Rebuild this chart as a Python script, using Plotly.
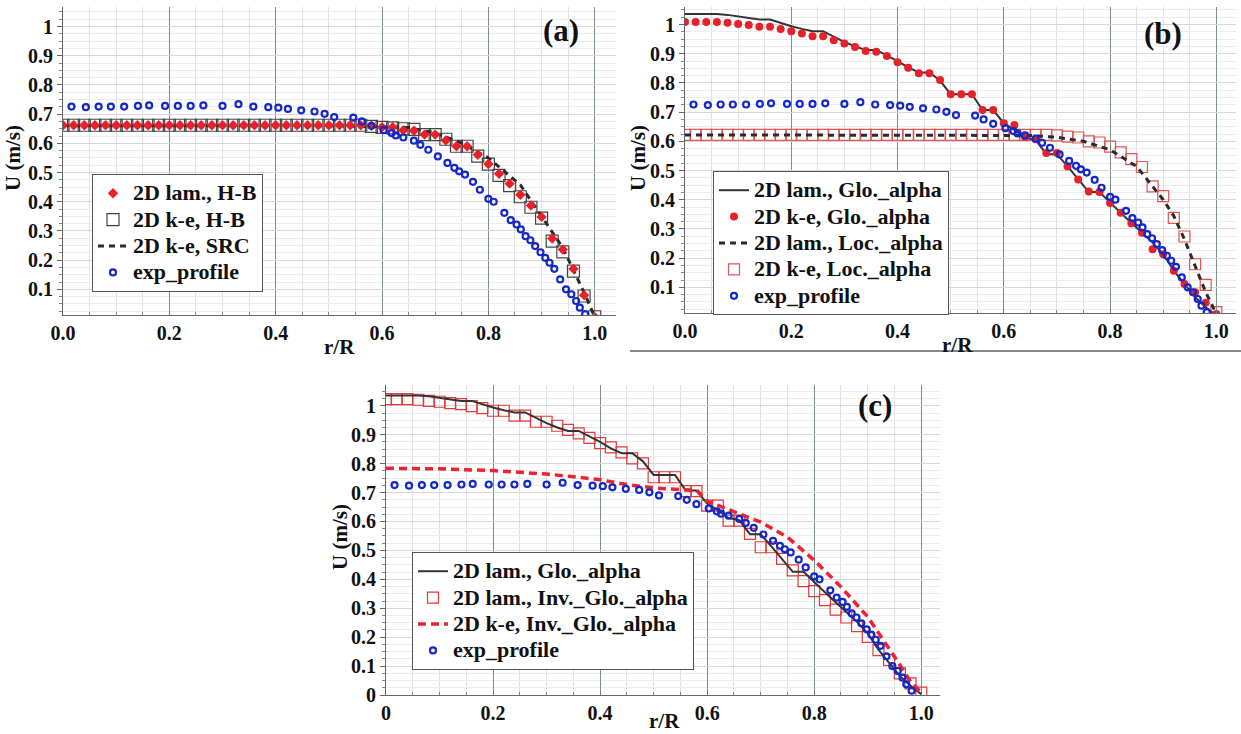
import plotly.graph_objects as go

# ---------------- data ----------------
r_sim = [0.00, 0.02, 0.04, 0.06, 0.08, 0.10, 0.12, 0.14, 0.16, 0.18,
         0.20, 0.22, 0.24, 0.26, 0.28, 0.30, 0.32, 0.34, 0.36, 0.38,
         0.40, 0.42, 0.44, 0.46, 0.48, 0.50, 0.52, 0.54, 0.56, 0.58,
         0.60, 0.62, 0.64, 0.66, 0.68, 0.70, 0.72, 0.74, 0.76, 0.78,
         0.80, 0.82, 0.84, 0.86, 0.88, 0.90, 0.92, 0.94, 0.96, 0.98, 1.00]

# panel (a)
u_lam_hb = [0.662, 0.662, 0.662, 0.662, 0.662, 0.662, 0.662, 0.662, 0.662, 0.662,
            0.662, 0.662, 0.662, 0.662, 0.662, 0.662, 0.662, 0.662, 0.662, 0.662,
            0.662, 0.662, 0.662, 0.662, 0.662, 0.662, 0.662, 0.662, 0.662, 0.660,
            0.655, 0.655, 0.645, 0.643, 0.630, 0.630, 0.610, 0.590, 0.590, 0.561,
            0.529, 0.496, 0.462, 0.424, 0.387, 0.348, 0.274, 0.236, 0.170, 0.080, 0.005]
u_ke_hb = [0.662, 0.662, 0.662, 0.662, 0.662, 0.662, 0.662, 0.662, 0.662, 0.662,
           0.662, 0.662, 0.662, 0.662, 0.662, 0.662, 0.662, 0.662, 0.662, 0.662,
           0.662, 0.662, 0.662, 0.662, 0.662, 0.662, 0.662, 0.662, 0.662, 0.658,
           0.655, 0.653, 0.650, 0.648, 0.630, 0.630, 0.614, 0.590, 0.590, 0.556,
           0.529, 0.490, 0.455, 0.417, 0.381, 0.344, 0.265, 0.228, 0.162, 0.077, 0.006]
r_src = [0.00, 0.10, 0.20, 0.30, 0.40, 0.50, 0.60, 0.65, 0.70, 0.75, 0.80,
         0.86, 0.90, 0.94, 0.98, 1.00]
u_src = [0.660, 0.660, 0.660, 0.660, 0.660, 0.660, 0.657, 0.654, 0.635, 0.601, 0.550,
         0.458, 0.350, 0.242, 0.089, 0.005]

# experimental profile (same in all panels)
r_exp = [0.016, 0.043, 0.067, 0.090, 0.115, 0.141, 0.162, 0.192, 0.216, 0.240,
         0.264, 0.300, 0.330, 0.358, 0.386, 0.405, 0.423, 0.448, 0.473, 0.492,
         0.510, 0.546, 0.562, 0.580, 0.603, 0.618, 0.626, 0.640, 0.660, 0.672,
         0.687, 0.705, 0.723, 0.736, 0.745, 0.756, 0.771, 0.784, 0.800, 0.810,
         0.830, 0.842, 0.853, 0.861, 0.870, 0.879, 0.888, 0.898, 0.907, 0.915,
         0.924, 0.935, 0.946, 0.956, 0.965, 0.972, 0.982]
u_exp = [0.726, 0.724, 0.726, 0.726, 0.726, 0.728, 0.730, 0.728, 0.728, 0.728,
         0.730, 0.728, 0.734, 0.726, 0.724, 0.722, 0.718, 0.713, 0.709, 0.701,
         0.690, 0.688, 0.675, 0.660, 0.645, 0.635, 0.627, 0.620, 0.609, 0.595,
         0.578, 0.555, 0.533, 0.516, 0.504, 0.493, 0.468, 0.441, 0.410, 0.400,
         0.362, 0.337, 0.322, 0.305, 0.282, 0.268, 0.248, 0.227, 0.208, 0.191,
         0.170, 0.134, 0.100, 0.083, 0.060, 0.037, 0.015]

# panel (b)
u_lam_glo = [1.036, 1.036, 1.036, 1.036, 1.033, 1.028, 1.022, 1.017, 1.017, 1.005,
             0.994, 0.985, 0.977, 0.977, 0.958, 0.940, 0.925, 0.913, 0.913, 0.895,
             0.875, 0.853, 0.836, 0.836, 0.808, 0.761, 0.761, 0.761, 0.707, 0.707,
             0.662, 0.639, 0.612, 0.605, 0.556, 0.556, 0.514, 0.469, 0.426, 0.426,
             0.389, 0.355, 0.321, 0.287, 0.253, 0.213, 0.157, 0.111, 0.066, 0.032, 0.003]
u_ke_glo = [1.009, 1.009, 1.009, 1.009, 1.006, 1.002, 0.998, 0.992, 0.992, 0.985,
            0.977, 0.969, 0.960, 0.960, 0.946, 0.935, 0.923, 0.909, 0.907, 0.892,
            0.871, 0.852, 0.833, 0.833, 0.810, 0.761, 0.761, 0.761, 0.707, 0.707,
            0.662, 0.656, 0.616, 0.607, 0.560, 0.560, 0.514, 0.469, 0.428, 0.426,
            0.389, 0.355, 0.319, 0.287, 0.230, 0.213, 0.157, 0.111, 0.083, 0.047, 0.009]
r_lam_loc = [0.00, 0.10, 0.20, 0.30, 0.40, 0.50, 0.60, 0.65, 0.70, 0.75, 0.80,
             0.85, 0.90, 0.92, 0.94, 0.96, 0.98, 1.00]
u_lam_loc = [0.622, 0.622, 0.622, 0.622, 0.622, 0.622, 0.622, 0.620, 0.614, 0.600, 0.571,
             0.514, 0.400, 0.344, 0.264, 0.174, 0.083, 0.009]
u_ke_loc = [0.622, 0.622, 0.622, 0.622, 0.622, 0.622, 0.622, 0.622, 0.622, 0.622,
            0.622, 0.622, 0.622, 0.622, 0.622, 0.622, 0.622, 0.622, 0.622, 0.622,
            0.622, 0.622, 0.622, 0.622, 0.622, 0.622, 0.622, 0.622, 0.622, 0.622,
            0.622, 0.622, 0.622, 0.622, 0.622, 0.620, 0.616, 0.613, 0.600, 0.596,
            0.582, 0.562, 0.539, 0.512, 0.446, 0.412, 0.338, 0.274, 0.179, 0.108, 0.015]

# panel (c)
u_lam_inv = [1.023, 1.023, 1.023, 1.021, 1.017, 1.014, 1.009, 1.006, 0.999, 0.992,
             0.983, 0.983, 0.966, 0.966, 0.945, 0.945, 0.931, 0.917, 0.905, 0.889,
             0.871, 0.856, 0.839, 0.818, 0.801, 0.753, 0.753, 0.753, 0.705, 0.705,
             0.655, 0.655, 0.603, 0.603, 0.557, 0.511, 0.511, 0.471, 0.431, 0.394,
             0.359, 0.328, 0.295, 0.268, 0.238, 0.201, 0.155, 0.121, 0.075, 0.040, 0.008]
r_ke_inv = [0.00, 0.10, 0.20, 0.25, 0.30, 0.35, 0.40, 0.45, 0.50, 0.55, 0.58, 0.60,
            0.65, 0.70, 0.75, 0.80, 0.85, 0.90, 0.95, 0.98, 1.00]
u_ke_inv = [0.784, 0.782, 0.776, 0.770, 0.764, 0.755, 0.744, 0.728, 0.716, 0.710, 0.709, 0.670,
            0.635, 0.598, 0.546, 0.466, 0.374, 0.270, 0.132, 0.046, 0.008]

x_ticks = [0, 0.2, 0.4, 0.6, 0.8, 1.0]
x_labels_ab = ["0.0", "0.2", "0.4", "0.6", "0.8", "1.0"]
x_labels_c = ["0", "0.2", "0.4", "0.6", "0.8", "1.0"]
y_ticks_ab = [0.1, 0.2, 0.3, 0.4, 0.5, 0.6, 0.7, 0.8, 0.9, 1.0]
y_labels_ab = ["0.1", "0.2", "0.3", "0.4", "0.5", "0.6", "0.7", "0.8", "0.9", "1"]
y_ticks_c = [0, 0.1, 0.2, 0.3, 0.4, 0.5, 0.6, 0.7, 0.8, 0.9, 1.0]
y_labels_c = ["0", "0.1", "0.2", "0.3", "0.4", "0.5", "0.6", "0.7", "0.8", "0.9", "1"]

# ---------------- styling ----------------
W, H = 1241, 734
SERIF = "Liberation Serif"
RED = "#e8202a"
BLUE = "#1428c8"
DARK = "#2b2b2b"
EXP_MARKER = dict(symbol="circle-open", size=6, color=BLUE, line=dict(width=2.2, color=BLUE))


def lname(t):
    # larger legend text than the legend's line pitch (tight spacing like reference)
    return "<span style='font-size:22px'>" + t + "</span>"


fig = go.Figure()

# ---- panel (a) ----
fig.add_trace(go.Scatter(x=r_sim, y=u_ke_hb, mode="markers", name=lname("2D k-e, H-B"),
                         marker=dict(symbol="square-open", size=12, color="#444",
                                     line=dict(width=1.2, color="#444")),
                         xaxis="x", yaxis="y", legend="legend", legendrank=2))
fig.add_trace(go.Scatter(x=r_src, y=u_src, mode="lines", name=lname("2D k-e, SRC"),
                         line=dict(color=DARK, width=3, dash="6px,5px"),
                         xaxis="x", yaxis="y", legend="legend", legendrank=3))
fig.add_trace(go.Scatter(x=r_sim, y=u_lam_hb, mode="markers", name=lname("2D lam., H-B"),
                         marker=dict(symbol="diamond", size=8, color=RED),
                         xaxis="x", yaxis="y", legend="legend", legendrank=1))
fig.add_trace(go.Scatter(x=r_exp, y=u_exp, mode="markers", name=lname("exp_profile"),
                         marker=EXP_MARKER, xaxis="x", yaxis="y", legend="legend", legendrank=4))

# ---- panel (b) ----
fig.add_trace(go.Scatter(x=r_sim, y=u_ke_loc, mode="markers", name=lname("2D k-e, Loc._alpha"),
                         marker=dict(symbol="square-open", size=11, color="#e05555",
                                     line=dict(width=1.2, color="#e05555")),
                         xaxis="x2", yaxis="y2", legend="legend2", legendrank=4))
fig.add_trace(go.Scatter(x=r_lam_loc, y=u_lam_loc, mode="lines", name=lname("2D lam., Loc._alpha"),
                         line=dict(color=DARK, width=3, dash="6px,5px"),
                         xaxis="x2", yaxis="y2", legend="legend2", legendrank=3))
fig.add_trace(go.Scatter(x=r_sim, y=u_lam_glo, mode="lines", name=lname("2D lam., Glo._alpha"),
                         line=dict(color="#333", width=2),
                         xaxis="x2", yaxis="y2", legend="legend2", legendrank=1))
fig.add_trace(go.Scatter(x=r_sim, y=u_ke_glo, mode="markers", name=lname("2D k-e, Glo._alpha"),
                         marker=dict(symbol="circle", size=8, color=RED),
                         xaxis="x2", yaxis="y2", legend="legend2", legendrank=2))
fig.add_trace(go.Scatter(x=r_exp, y=u_exp, mode="markers", name=lname("exp_profile"),
                         marker=EXP_MARKER, xaxis="x2", yaxis="y2", legend="legend2", legendrank=5))

# ---- panel (c) ----
fig.add_trace(go.Scatter(x=r_sim, y=u_lam_inv, mode="markers", name=lname("2D lam., Inv._Glo._alpha"),
                         marker=dict(symbol="square-open", size=11, color="#e03a3a",
                                     line=dict(width=1.2, color="#e03a3a")),
                         xaxis="x3", yaxis="y3", legend="legend3", legendrank=2))
fig.add_trace(go.Scatter(x=r_sim, y=u_lam_glo, mode="lines", name=lname("2D lam., Glo._alpha"),
                         line=dict(color="#333", width=2),
                         xaxis="x3", yaxis="y3", legend="legend3", legendrank=1))
fig.add_trace(go.Scatter(x=r_ke_inv, y=u_ke_inv, mode="lines", name=lname("2D k-e, Inv._Glo._alpha"),
                         line=dict(color="#ee2233", width=3.5, dash="8px,5px"),
                         xaxis="x3", yaxis="y3", legend="legend3", legendrank=3))
fig.add_trace(go.Scatter(x=r_exp, y=u_exp, mode="markers", name=lname("exp_profile"),
                         marker=EXP_MARKER, xaxis="x3", yaxis="y3", legend="legend3", legendrank=4))


def px_x(p):
    return p / W


def px_y(p):
    return 1 - p / H


tickfont = dict(family=SERIF, size=20, color="#111", weight="bold")


def xaxis(dom, rng, labels, anchor):
    return dict(domain=dom, range=rng, tickmode="array", tickvals=x_ticks, ticktext=labels,
                showline=True, linecolor="#666", linewidth=1, mirror=False,
                showgrid=True, gridcolor="#7d8c8c", gridwidth=1, zeroline=False,
                ticks="inside", ticklen=4, tickcolor="#777", automargin=False,
                minor=dict(tickmode="linear", tick0=0, dtick=0.05, showgrid=True,
                           gridcolor="#e2e2e2", ticks="inside", ticklen=3, tickcolor="#888"),
                tickfont=tickfont, anchor=anchor, fixedrange=True)


def yaxis(dom, rng, vals, labels, anchor):
    return dict(domain=dom, range=rng, tickmode="array", tickvals=vals, ticktext=labels,
                showline=True, linecolor="#666", linewidth=1,
                showgrid=True, gridcolor="#d8d8d8", gridwidth=1, zeroline=False,
                ticks="outside", ticklen=5, tickcolor="#666", automargin=False,
                minor=dict(tickmode="linear", tick0=0, dtick=0.025, showgrid=True,
                           gridcolor="#ececec", ticks="outside", ticklen=3, tickcolor="#888"),
                tickfont=tickfont, anchor=anchor, fixedrange=True)


legfont = dict(family=SERIF, size=18, color="#111", weight="bold")
legstyle = dict(bgcolor="white", bordercolor="#555", borderwidth=1, font=legfont,
                xanchor="left", yanchor="top", xref="paper", yref="paper",
                tracegroupgap=0, itemwidth=30)

fig.update_layout(
    template="none",
    width=W, height=H, margin=dict(l=0, r=0, t=0, b=0, autoexpand=False),
    paper_bgcolor="white", plot_bgcolor="white", showlegend=True,
    xaxis=xaxis([px_x(63), px_x(616)], [0, 1.04], x_labels_ab, "y"),
    yaxis=yaxis([px_y(315), px_y(7)], [0.012, 1.067], y_ticks_ab, y_labels_ab, "x"),
    xaxis2=xaxis([px_x(685), px_x(1236)], [0, 1.037], x_labels_ab, "y2"),
    yaxis2=yaxis([px_y(313), px_y(7)], [0.012, 1.06], y_ticks_ab, y_labels_ab, "x2"),
    xaxis3=xaxis([px_x(386), px_x(940)], [0, 1.035], x_labels_c, "y3"),
    yaxis3=yaxis([px_y(695), px_y(385)], [0, 1.072], y_ticks_c, y_labels_c, "x3"),
    legend=dict(legstyle, x=px_x(92), y=px_y(174)),
    legend2=dict(legstyle, x=px_x(713), y=px_y(171)),
    legend3=dict(legstyle, x=px_x(412), y=px_y(552)),
)

titlefont = dict(family=SERIF, size=21, color="#111", weight="bold")
panelfont = dict(family=SERIF, size=31, color="#111", weight="bold")
annots = [
    ("(a)", 561, 30, panelfont, 0),
    ("(b)", 1163, 33, panelfont, 0),
    ("(c)", 875, 406, panelfont, 0),
    ("r/R", 339, 347, titlefont, 0),
    ("r/R", 957, 345, titlefont, 0),
    ("r/R", 664, 721, titlefont, 0),
    ("U (m/s)", 13, 158, titlefont, -90),
    ("U (m/s)", 638, 158, titlefont, -90),
    ("U (m/s)", 340, 537, titlefont, -90),
]
for txt, x, y, f, ang in annots:
    fig.add_annotation(text=txt, x=px_x(x), y=px_y(y), xref="paper", yref="paper",
                       showarrow=False, font=f, textangle=ang,
                       xanchor="center", yanchor="middle")

# rule under panel (b)
fig.add_shape(type="line", xref="paper", yref="paper", x0=px_x(630), x1=1.0,
              y0=px_y(351), y1=px_y(351), line=dict(color="#888", width=2))

fig.write_html("out.html", config={"displayModeBar": False},
               post_script="document.body.style.margin='0px';document.body.style.overflow='hidden';")
